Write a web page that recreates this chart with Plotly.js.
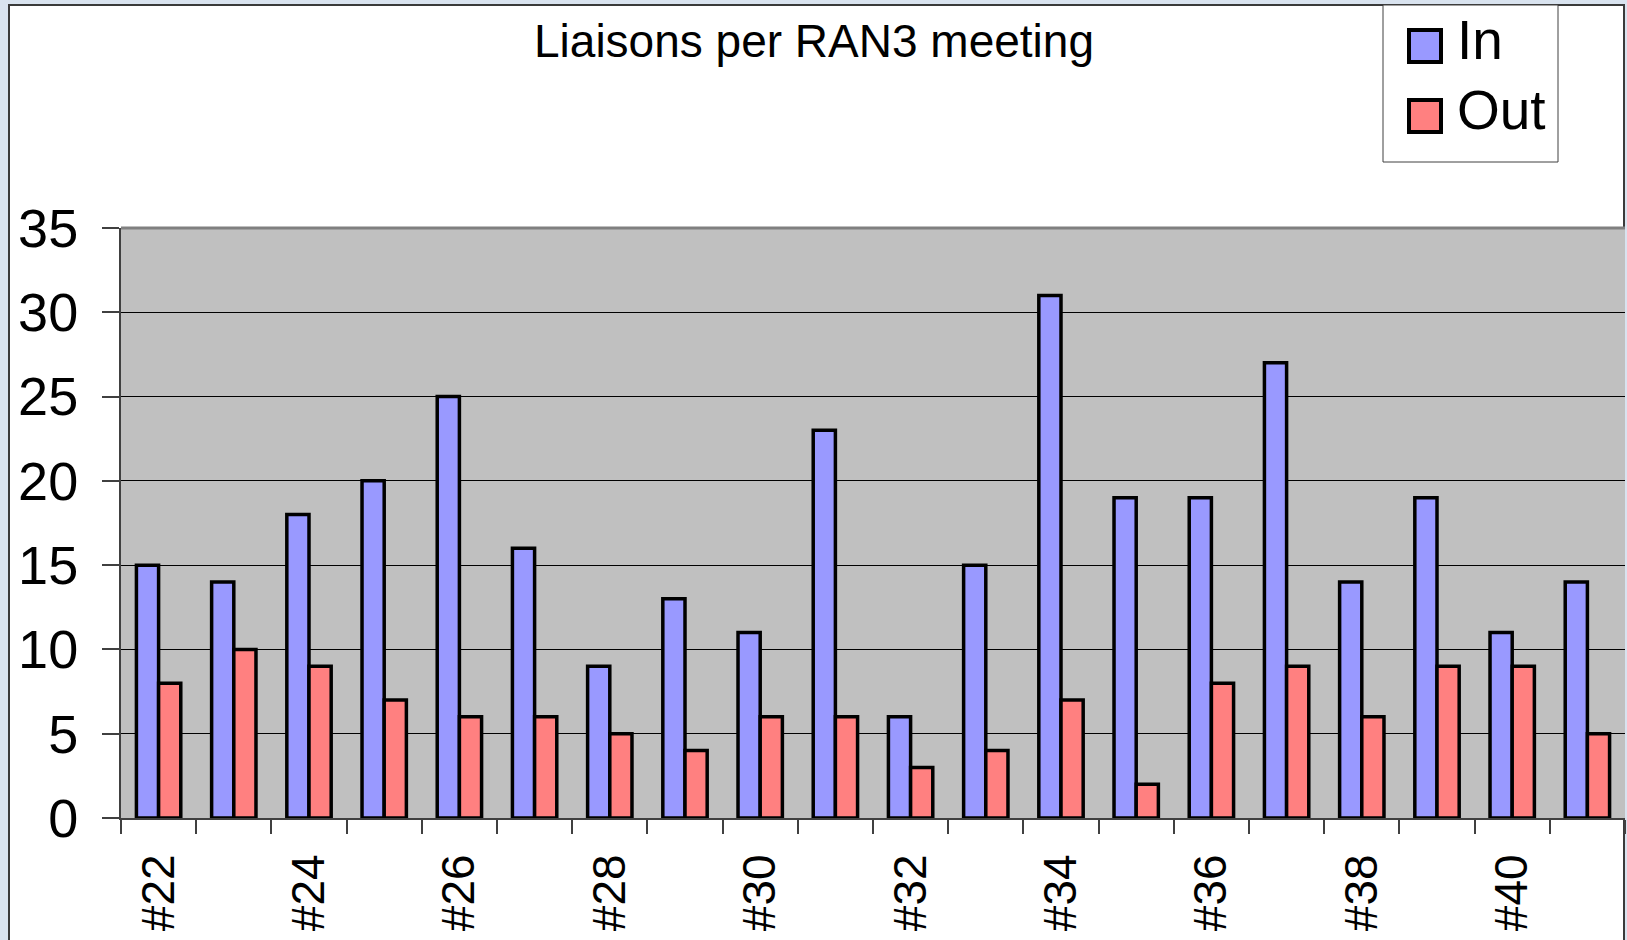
<!DOCTYPE html>
<html><head><meta charset="utf-8">
<script src="https://cdn.plot.ly/plotly-3.0.1.min.js"></script>
<style>
html,body{margin:0;padding:0;background:#d9e3ef;overflow:hidden;width:1627px;height:940px;}
#frame{position:absolute;left:8px;top:4px;width:1613px;height:940px;background:#fff;border-left:2px solid #3a3a3a;border-top:2px solid #3a3a3a;border-right:2px solid #3a3a3a;}
#chart{position:absolute;left:0;top:0;width:1627px;height:940px;}
</style></head><body>
<div id="frame"></div><div id="chart"></div>
<script>
const categories = ["#22","#23","#24","#25","#26","#27","#28","#29","#30","#31","#32","#33","#34","#35","#36","#37","#38","#39","#40","#41"];
const tickLabels = ["#22","","#24","","#26","","#28","","#30","","#32","","#34","","#36","","#38","","#40",""];
const inValues  = [15,14,18,20,25,16,9,13,11,23,6,15,31,19,19,27,14,19,11,14];
const outValues = [8,10,9,7,6,6,5,4,6,6,3,4,7,2,8,9,6,9,9,5];
const seriesNames = ["In","Out"];
const seriesColors = ["#9999ff","#ff8080"];
const chartTitle = "Liaisons per RAN3 meeting";
const yTickVals = [0,5,10,15,20,25,30,35];

const FONT = "Liberation Sans, Arial, sans-serif";
const L=121, R=1625, T=228, B=818;
const px = x => (x-L)/(R-L);
const py = y => (B-y)/(B-T);

const traces = [inValues, outValues].map((vals,i)=>({
  type:'bar', x:categories, y:vals, name:seriesNames[i],
  marker:{color:seriesColors[i], line:{color:'#000', width:3.5}},
  hoverinfo:'x+y+name'
}));

const shapes = [
  {type:'line', xref:'paper', yref:'paper', x0:0, x1:1, y0:1, y1:1, line:{color:'#808080', width:3}},
  {type:'rect', xref:'paper', yref:'paper', x0:px(1383), x1:px(1558), y0:py(162), y1:py(5), fillcolor:'#fff', line:{color:'#404040', width:1}}
];
const annotations = [];
seriesNames.forEach((n,i)=>{
  const c = 46 + 70*i;
  shapes.push({type:'rect', xref:'paper', yref:'paper', x0:px(1409), x1:px(1441), y0:py(c+16), y1:py(c-16), fillcolor:seriesColors[i], line:{color:'#000', width:4}});
  annotations.push({xref:'paper', yref:'paper', x:px(1455), y:py(c-6), xanchor:'left', yanchor:'middle', text:n, showarrow:false, font:{family:FONT, size:55, color:'#000'}});
});

const layout = {
  width:1627, height:940,
  margin:{l:L, r:1627-R, t:T, b:940-B, pad:0},
  paper_bgcolor:'rgba(0,0,0,0)', plot_bgcolor:'#c0c0c0',
  font:{family:FONT, color:'#000'},
  title:{text:chartTitle, font:{family:FONT, size:46, color:'#000'}, xref:'container', yref:'container', x:814/1627, xanchor:'center', y:1-41/940, yanchor:'middle'},
  showlegend:false,
  barmode:'group', bargap:0.41, bargroupgap:0,
  xaxis:{type:'category', categoryorder:'array', categoryarray:categories, tickmode:'array', tickvals:categories, ticktext:tickLabels,
    tickson:'boundaries', ticks:'outside', ticklen:14, tickwidth:1.5, tickcolor:'#404040', tickangle:-90, ticklabelstandoff:16,
    tickfont:{family:FONT, size:46, color:'#000'}, showline:true, linecolor:'#404040', linewidth:2, showgrid:false, range:[-0.5,19.5], fixedrange:true},
  yaxis:{range:[0,35], tickmode:'array', tickvals:yTickVals, ticks:'outside', ticklen:17, tickwidth:1.5, tickcolor:'#404040', ticklabelstandoff:13,
    tickfont:{family:FONT, size:54, color:'#000'}, showgrid:true, gridcolor:'#000', gridwidth:1, showline:true, linecolor:'#404040', linewidth:2, zeroline:false, fixedrange:true},
  shapes:shapes, annotations:annotations
};
Plotly.newPlot('chart', traces, layout, {displayModeBar:false});
</script></body></html>
